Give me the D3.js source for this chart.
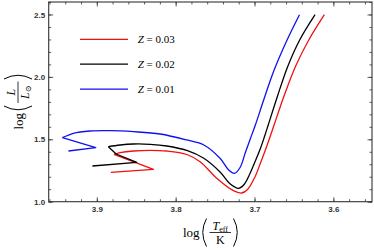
<!DOCTYPE html>
<html>
<head>
<meta charset="utf-8">
<script src="https://cdn.jsdelivr.net/npm/d3@7"></script>
<style>
  body { margin: 0; background: #fff; }
  svg { display: block; }
  .tick text { font-family: "Liberation Sans", Arial, sans-serif; font-weight: bold; font-size: 8px; fill: #333; }
  .tick line { stroke: #333; }
  .math { font-family: "Liberation Serif", "DejaVu Serif", serif; fill: #000; }
</style>
</head>
<body>
<svg width="374" height="250"></svg>
<script>
// tracks: log Teff and log L/Lsun, loop first, then up to the giant branch
const logTeffZ03 = [3.8822, 3.8282, 3.8781, 3.8705, 3.8536, 3.8324, 3.8112, 3.7859, 3.7690, 3.7479, 3.7268, 3.7164, 3.7088, 3.6993, 3.6917, 3.6847, 3.6752, 3.6629, 3.6482, 3.6312, 3.6114];
const logLZ03    = [1.2356, 1.2596, 1.3798, 1.3926, 1.4062, 1.4118, 1.4062, 1.3782, 1.3205, 1.1875, 1.0881, 1.0697, 1.0978, 1.2003, 1.3221, 1.4407, 1.6146, 1.8413, 2.0817, 2.2957, 2.4984];

const logTeffZ02 = [3.9056, 3.8493, 3.8755, 3.8853, 3.8705, 3.8536, 3.8324, 3.8112, 3.7859, 3.7643, 3.7437, 3.7307, 3.7202, 3.7132, 3.7056, 3.6987, 3.6923, 3.6871, 3.6824, 3.6711, 3.6580, 3.6427, 3.6232];
const logLZ02    = [1.2861, 1.3157, 1.3822, 1.4407, 1.4543, 1.4623, 1.4599, 1.4463, 1.4103, 1.3478, 1.2380, 1.1418, 1.1074, 1.1378, 1.2276, 1.3301, 1.4303, 1.5264, 1.6186, 1.8413, 2.0817, 2.2957, 2.4984];

const logTeffZ01 = [3.9360, 3.9013, 3.9436, 3.9297, 3.9085, 3.8831, 3.8536, 3.8197, 3.7859, 3.7643, 3.7437, 3.7326, 3.7253, 3.7183, 3.7116, 3.7054, 3.6989, 3.6884, 3.6751, 3.6587, 3.6430];
const logLZ01    = [1.4062, 1.4327, 1.5128, 1.5481, 1.5665, 1.5689, 1.5609, 1.5425, 1.4944, 1.4543, 1.3478, 1.2540, 1.2276, 1.2740, 1.3942, 1.5024, 1.6146, 1.8149, 2.0553, 2.2957, 2.4984];

// number of points in the sharp-cornered loop at the start of each track
const loopPoints = [3, 4, 3];
const metallicity = ['0.03', '0.02', '0.01'];
const xMajorTicks = [3.9, 3.8, 3.7, 3.6];
const yMajorTicks = [1.0, 1.5, 2.0, 2.5];

const colors = ['#f01010', '#000', '#1010f0'];
const tracks = [
  {teff: logTeffZ03, lum: logLZ03},
  {teff: logTeffZ02, lum: logLZ02},
  {teff: logTeffZ01, lum: logLZ01},
].map((t, i) => ({
  z: metallicity[i],
  loop: loopPoints[i],
  color: colors[i],
  points: t.teff.map((v, j) => [v, t.lum[j]]),
}));

const svg = d3.select('svg');
const plotLeft = 48.7, plotRight = 372, plotTop = 2, plotBottom = 201.7;

const x = d3.scaleLinear().domain([3.961, 3.551]).range([plotLeft, plotRight]);
const y = d3.scaleLinear().domain([1.0, 2.6]).range([plotBottom, plotTop]);

// minor ticks
const xMinor = d3.range(178, 199).map(i => i / 50);
const yMinor = d3.range(10, 27).map(i => i / 10);

function addAxis(axis, tx, ty) {
  const g = svg.append('g').attr('transform', `translate(${tx},${ty})`).call(axis);
  g.select('.domain').remove();
  return g;
}

addAxis(d3.axisBottom(x).tickValues(xMinor).tickSize(-2.5).tickFormat(''), 0, plotBottom);
addAxis(d3.axisTop(x).tickValues(xMinor).tickSize(-2.5).tickFormat(''), 0, plotTop);
addAxis(d3.axisLeft(y).tickValues(yMinor).tickSize(-2.5).tickFormat(''), plotLeft, 0);
addAxis(d3.axisRight(y).tickValues(yMinor).tickSize(-2.5).tickFormat(''), plotRight, 0);

addAxis(d3.axisBottom(x).tickValues(xMajorTicks).tickSize(-4.5).tickPadding(5).tickFormat(d3.format('.1f')), 0, plotBottom);
addAxis(d3.axisTop(x).tickValues(xMajorTicks).tickSize(-4.5).tickFormat(''), 0, plotTop);
addAxis(d3.axisLeft(y).tickValues(yMajorTicks).tickSize(-4.5).tickPadding(3.5).tickFormat(d3.format('.1f')), plotLeft, 0);
addAxis(d3.axisRight(y).tickValues(yMajorTicks).tickSize(-4.5).tickFormat(''), plotRight, 0);

svg.selectAll('.tick line').attr('stroke-width', 0.8);

// frame
svg.append('rect')
  .attr('x', plotLeft).attr('y', plotTop)
  .attr('width', plotRight - plotLeft).attr('height', plotBottom - plotTop)
  .attr('fill', 'none').attr('stroke', '#333').attr('stroke-width', 1.1);

// tracks: straight loop segments, smooth main branch
const loopLine = d3.line().x(d => x(d[0])).y(d => y(d[1]));
const smoothLine = d3.line().x(d => x(d[0])).y(d => y(d[1])).curve(d3.curveCatmullRom.alpha(0.5));

const trackG = svg.append('g')
  .selectAll('g')
  .data(tracks)
  .enter()
  .append('g')
  .attr('fill', 'none')
  .attr('stroke', d => d.color)
  .attr('stroke-width', 1.3)
  .attr('stroke-linejoin', 'round');

trackG.append('path').attr('d', d => loopLine(d.points.slice(0, d.loop)));
trackG.append('path').attr('d', d => smoothLine(d.points.slice(d.loop - 1)));

// legend
const legend = svg.append('g')
  .selectAll('g')
  .data(tracks)
  .enter()
  .append('g')
  .attr('transform', (d, i) => `translate(80,${39.3 + i * 24.9})`);

legend.append('line')
  .attr('x1', 0).attr('x2', 48)
  .attr('stroke', d => d.color).attr('stroke-width', 1.3);

const legendText = legend.append('text')
  .attr('class', 'math')
  .attr('x', 57.7).attr('y', 3.8)
  .attr('font-size', 11)
  .attr('xml:space', 'preserve')
  .style('white-space', 'pre');
legendText.append('tspan').attr('font-style', 'italic').text('Z');
legendText.append('tspan').text(d => ' = ' + d.z);

// axis titles: log( num / den )
function fracLabel(g, num, numSub, den, denSub) {
  g.append('text').attr('class', 'math').attr('x', -28).attr('y', 4.5)
    .attr('font-size', 13).text('log');
  g.append('path').attr('d', 'M-4.5,-14 Q-12,0 -4.5,14')
    .attr('fill', 'none').attr('stroke', '#000').attr('stroke-width', 1);
  g.append('path').attr('d', 'M22.5,-14 Q30,0 22.5,14')
    .attr('fill', 'none').attr('stroke', '#000').attr('stroke-width', 1);
  g.append('line').attr('x1', -1.5).attr('x2', 20).attr('y1', 0).attr('y2', 0)
    .attr('stroke', '#000').attr('stroke-width', 0.8);
  const n = g.append('text').attr('class', 'math').attr('x', 9.25).attr('y', -3)
    .attr('text-anchor', 'middle').attr('font-size', 12);
  n.append('tspan').attr('font-style', 'italic').text(num);
  if (numSub) n.append('tspan').attr('font-size', 8).attr('dy', 2).text(numSub);
  const dn = g.append('text').attr('class', 'math').attr('x', 9.25).attr('y', 11)
    .attr('text-anchor', 'middle').attr('font-size', 12);
  dn.append('tspan').attr('font-style', denSub ? 'italic' : 'normal').text(den);
  if (denSub) dn.append('tspan').attr('font-size', 8).attr('dy', 2).text(denSub);
}

fracLabel(svg.append('g').attr('transform', 'translate(211,232.5)'), 'T', 'eff', 'K', null);
fracLabel(svg.append('g').attr('transform', 'translate(18,101.5) rotate(-90)'), 'L', null, 'L', '\u2299');
</script>
</body>
</html>
